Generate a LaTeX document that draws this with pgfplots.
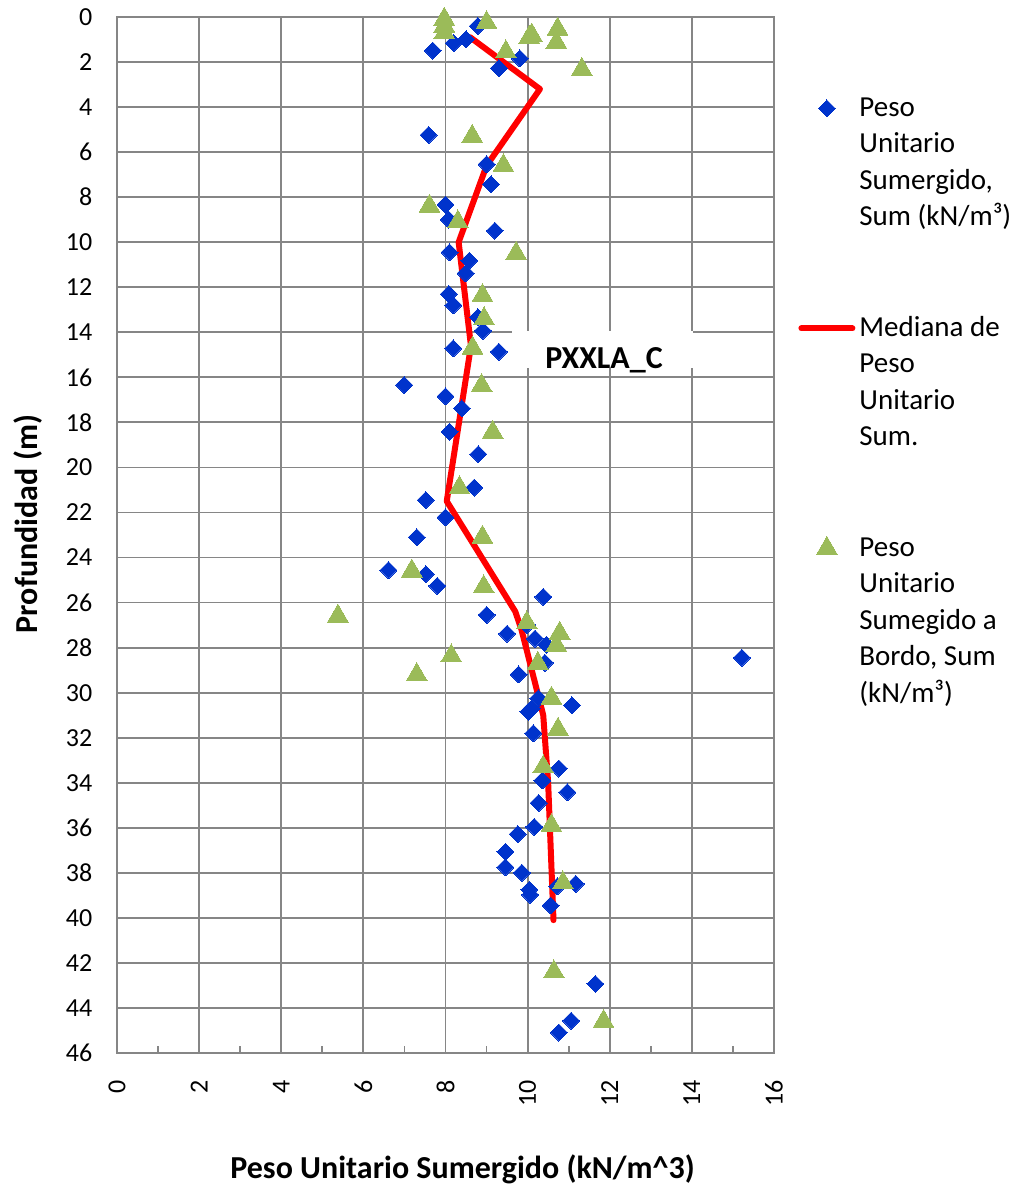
\documentclass[border=0pt]{standalone}
\usepackage{fontspec}
\setmainfont{Carlito}
\usepackage{pgfplots}
\pgfplotsset{compat=1.18}
\definecolor{mblue}{RGB}{0,51,204}
\definecolor{mgreen}{RGB}{155,187,89}
\definecolor{gridgray}{RGB}{134,134,134}
\newcommand{\legtext}[1]{\raisebox{-4.67pt}[0pt][0pt]{\parbox[t]{90pt}{\raggedright #1}}}
\begin{document}
\begin{tikzpicture}
\begin{axis}[
  name=ax,
  scale only axis, width=328.5pt, height=518pt,
  xmin=0, xmax=16, ymin=0, ymax=46, y dir=reverse,
  xtick={0,2,...,16}, ytick={0,2,...,46},
  minor x tick num=1,
  xtick pos=left, ytick pos=left,
  tick align=inside,
  major tick length=3.5pt, minor tick length=3.5pt,
  grid=major,
  major grid style={gridgray, line width=0.9pt},
  axis line style={gridgray, line width=0.9pt},
  every tick/.style={gridgray, line width=0.9pt},
  clip=false,
  /pgf/number format/assume math mode=true,
  ticklabel style={font=\fontsize{13}{15}\selectfont, inner sep=0pt},
  xticklabel style={rotate=90, anchor=east},
  xticklabel shift=13.5pt,
  yticklabel shift=12.2pt,
  xlabel={Peso Unitario Sumergido (kN/m\textasciicircum 3)},
  ylabel={Profundidad (m)},
  xlabel style={at={(axis description cs:0.526,-0.1207)}, anchor=base, font=\bfseries\fontsize{16}{19}\selectfont},
  ylabel style={at={(axis description cs:-0.1355,0.5106)}, anchor=center, font=\bfseries\fontsize{16}{19}\selectfont},
  legend style={at={(axis description cs:1,1)}, anchor=north west, xshift=12pt, yshift=-37.5pt,
    draw=none, fill=none, inner sep=0pt, row sep=94pt, column sep=0pt,
    cells={anchor=west, inner sep=0pt},
    font=\fontsize{14.5}{18.25}\selectfont},
  legend cell align=left,
  legend image code/.code={\path[draw=none, fill=none] (0pt,-8pt) rectangle (28.5pt,8pt);
    \draw[mark repeat=2,mark phase=2,#1] plot coordinates {(1.5pt,0pt) (14.25pt,0pt) (27pt,0pt)};},
]
% blue diamonds
\addplot[only marks, mark=square*, mark size=3pt,
  mark options={rotate=45, fill=mblue, draw=mblue, line width=0pt}] coordinates {
(8.0,0.3) (8.79,0.4) (8.2,1.16) (8.5,0.99) (7.69,1.49) (9.81,1.84) (9.3,2.28)
(7.59,5.24) (9.0,6.54) (9.11,7.43) (8.0,8.33) (8.08,9.0) (9.2,9.49)
(8.1,10.45) (8.58,10.82) (8.49,11.38) (8.08,12.3) (8.19,12.8) (8.79,13.33)
(8.91,13.93) (8.19,14.71) (9.3,14.86) (6.99,16.34) (8.0,16.84) (8.4,17.38)
(8.1,18.41) (8.8,19.41) (8.7,20.9) (7.52,21.45) (8.0,22.22) (7.3,23.1)
(6.61,24.56) (7.52,24.74) (7.8,25.26) (10.38,25.75) (9.0,26.55) (9.98,26.99)
(9.5,27.38) (10.18,27.6) (10.46,27.88) (10.42,28.67) (15.22,28.45) (9.78,29.19)
(10.26,30.25) (11.08,30.56) (10.1,30.7) (10.02,30.84) (10.14,31.8)
(10.76,33.37) (10.36,33.9) (10.97,34.42) (10.27,34.9) (10.16,35.96)
(9.76,36.28) (9.46,37.07) (9.46,37.75) (9.86,38.0) (11.17,38.49) (10.72,38.6)
(10.04,38.75) (10.06,38.97) (10.56,39.45) (11.65,42.93) (11.06,44.57) (10.76,45.09)
};
\addlegendentry{\legtext{Peso\\Unitario\\Sumergido,\\Sum (kN/m³)}}
% median line
\addplot[red, line width=3pt, line join=round, line cap=round, no markers] coordinates {
(8.6,0.9) (10.3,3.2) (9.0,6.6) (8.32,10.0) (8.62,14.6) (8.03,21.5)
(9.7,26.4) (9.85,27.2) (10.38,31.0) (10.42,32.0) (10.5,34.0) (10.63,40.1)
};
\addlegendentry{\legtext{Mediana de\\Peso\\Unitario\\Sum.}}
% green triangles
\addplot[only marks, mark=triangle*, mark size=6pt,
  mark options={fill=mgreen, draw=mgreen, line width=0pt}] coordinates {
(7.97,0.1) (7.97,0.4) (7.97,0.7) (9.0,0.25) (10.73,0.54) (10.04,0.9) (10.1,0.8)
(10.7,1.13) (9.47,1.55) (11.32,2.33) (8.65,5.3) (9.41,6.6) (7.61,8.4) (8.3,9.1)
(9.72,10.5) (8.9,12.37) (8.94,13.4) (8.66,14.7) (8.88,16.37) (9.15,18.44)
(8.34,20.9) (8.9,23.1) (7.18,24.6) (8.93,25.3) (5.38,26.6) (9.98,26.9)
(10.78,27.36) (10.7,27.9) (8.14,28.37) (10.25,28.7) (7.3,29.2) (10.58,30.25)
(10.74,31.63) (10.38,33.3) (10.58,35.9) (10.86,38.45) (10.64,42.4) (11.85,44.6)
};
\addlegendentry{\legtext{Peso\\Unitario\\Sumegido a\\Bordo, Sum\\(kN/m³)}}
\fill[white] (axis cs:9.62,13.95) rectangle (axis cs:14.03,15.6);
\node[font=\bfseries\fontsize{16}{19}\selectfont, inner sep=0pt] at (axis cs:11.86,15.23) {PXXLA\_C};
\end{axis}
\pgfresetboundingbox
\path[use as bounding box] ([shift={(-58.5pt,-66.5pt)}]ax.south west) rectangle ([shift={(123.5pt,8.5pt)}]ax.north east);
\end{tikzpicture}
\end{document}
